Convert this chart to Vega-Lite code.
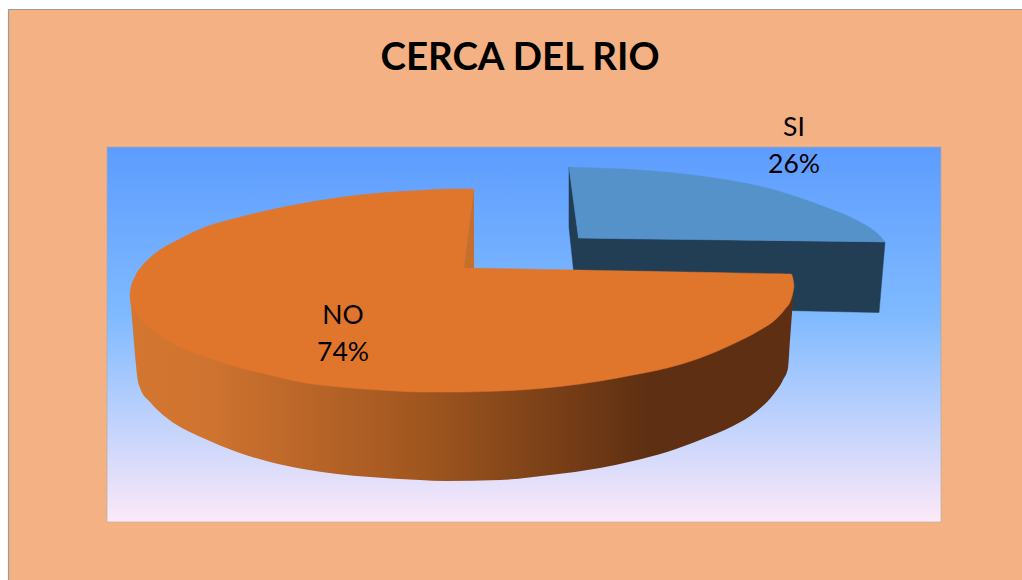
{
"$schema":"https://vega.github.io/schema/vega-lite/v6.json",
"width":1014,"height":571,
"autosize":"none",
"padding":{"left":8,"top":9,"right":0,"bottom":0},
"background":"#ffffff",
"view":{"fill":"#F4B183","stroke":null},
"title":{"text":"CERCA DEL RIO","font":"Lato","fontWeight":"bold","fontSize":38.5,"color":"#000000","anchor":"middle","baseline":"alphabetic","offset":-100,"dx":5},
"datasets":{
"frame":[{"x":8.5,"y":9.5,"x2":8.5,"y2":580},{"x":8.5,"y":9.5,"x2":1022,"y2":9.5}],
"plot":[{"x":107,"y":147,"x2":941,"y2":522}],
"si_dark":[{"x":569,"y":167,"y2":227},{"x":573.5,"y":200,"y2":270},{"x":578.5,"y":238,"y2":306},{"x":879,"y":241.9,"y2":312.5},{"x":885,"y":242,"y2":242}],
"si_top":[{"part":"wedge","x":569,"y":167,"y2":167},{"part":"wedge","x":578.5,"y":167.5,"y2":238},
{"part":"arc","x":578.5,"y":167.5,"y2":238},{"part":"arc","x":640,"y":170,"y2":238.9},{"part":"arc","x":700,"y":176,"y2":239.6},{"part":"arc","x":733,"y":181,"y2":240},{"part":"arc","x":767,"y":188,"y2":240.4},{"part":"arc","x":800,"y":198,"y2":240.8},{"part":"arc","x":833,"y":210,"y2":241.2},{"part":"arc","x":850,"y":217,"y2":241.4},{"part":"arc","x":867,"y":226,"y2":241.6},{"part":"arc","x":877,"y":233,"y2":241.8},{"part":"arc","x":885,"y":242,"y2":242}],
"no_side":[{"x":130,"y":294,"y2":294},{"x":132,"y":294,"y2":318},{"x":136,"y":294,"y2":365},{"x":137,"y":294,"y2":375},{"x":140,"y":294,"y2":388},{"x":150,"y":294,"y2":402},{"x":163,"y":294,"y2":415},{"x":182,"y":294,"y2":428},{"x":203,"y":294,"y2":438},{"x":237,"y":294,"y2":452},{"x":270,"y":294,"y2":462},{"x":303,"y":294,"y2":469},{"x":337,"y":294,"y2":474},{"x":370,"y":294,"y2":477},{"x":420,"y":294,"y2":480},{"x":445,"y":294,"y2":481},{"x":500,"y":294,"y2":480},{"x":550,"y":294,"y2":475},{"x":600,"y":294,"y2":468},{"x":633,"y":294,"y2":461},{"x":667,"y":294,"y2":452},{"x":700,"y":294,"y2":440},{"x":733,"y":294,"y2":426},{"x":757,"y":294,"y2":411},{"x":773,"y":294,"y2":395},{"x":783,"y":294,"y2":380},{"x":788,"y":290,"y2":368},{"x":790,"y":288,"y2":340},{"x":792,"y":287,"y2":313},{"x":794,"y":286,"y2":286}],
"no_top":[
{"part":"left","x":130,"y":294,"y2":294},{"part":"left","x":131,"y":288,"y2":303},{"part":"left","x":135,"y":277,"y2":311},{"part":"left","x":143,"y":265,"y2":322},{"part":"left","x":151,"y":257,"y2":329},{"part":"left","x":160,"y":250,"y2":336},{"part":"left","x":178,"y":240,"y2":346},{"part":"left","x":203,"y":228,"y2":356},{"part":"left","x":237,"y":218,"y2":367},{"part":"left","x":270,"y":210,"y2":375},{"part":"left","x":300,"y":204,"y2":382},{"part":"left","x":340,"y":197.5,"y2":387},{"part":"left","x":380,"y":193,"y2":390},{"part":"left","x":420,"y":190.5,"y2":392},{"part":"left","x":450,"y":189,"y2":392},{"part":"left","x":464,"y":189,"y2":392},
{"part":"flap","x":464,"y":189,"y2":268},{"part":"flap","x":474,"y":189,"y2":189},
{"part":"right","x":464,"y":268,"y2":392},{"part":"right","x":500,"y":268.7,"y2":391},{"part":"right","x":540,"y":269.4,"y2":388.5},{"part":"right","x":580,"y":270.1,"y2":384},{"part":"right","x":600,"y":270.5,"y2":381},{"part":"right","x":633,"y":271.1,"y2":375},{"part":"right","x":667,"y":271.7,"y2":368},{"part":"right","x":700,"y":272.3,"y2":358},{"part":"right","x":733,"y":272.9,"y2":344},{"part":"right","x":760,"y":273.4,"y2":330},{"part":"right","x":775,"y":273.7,"y2":320},{"part":"right","x":785,"y":273.9,"y2":309},{"part":"right","x":791,"y":274,"y2":299.5},{"part":"right","x":793,"y":279,"y2":292},{"part":"right","x":794,"y":286,"y2":286}],
"no_wall":[{"x":464,"y":268,"y2":268},{"x":474,"y":189,"y2":268}],
"labels":[{"category":"SI","share":26,"label":"SI\n26%","x":794,"y":128},{"category":"NO","share":74,"label":"NO\n74%","x":343,"y":316}]
},
"encoding":{
"x":{"field":"x","type":"quantitative","axis":null,"scale":{"domain":[8,1022],"nice":false,"zero":false}},
"y":{"field":"y","type":"quantitative","axis":null,"scale":{"domain":[580,9],"nice":false,"zero":false}}
},
"layer":[
{"data":{"name":"plot"},"mark":{"type":"rect","stroke":"#b0a8a0","strokeWidth":0.6,"fill":{"x1":0,"y1":0,"x2":0,"y2":1,"gradient":"linear","stops":[{"offset":0,"color":"#5D9CFF"},{"offset":0.45,"color":"#7FBAFF"},{"offset":1,"color":"#FDE9F9"}]}},"encoding":{"x2":{"field":"x2"},"y2":{"field":"y2"}}},
{"data":{"name":"frame"},"mark":{"type":"rule","color":"#9a9a9a","strokeWidth":1.2},"encoding":{"x2":{"field":"x2"},"y2":{"field":"y2"}}},
{"data":{"name":"si_dark"},"mark":{"type":"area","color":"#223E55","stroke":"#223E55","strokeWidth":0.5},"encoding":{"y2":{"field":"y2"}}},
{"data":{"name":"si_top"},"mark":{"type":"area","interpolate":"monotone","color":"#5592C9","stroke":"#5592C9","strokeWidth":0.5},"encoding":{"y2":{"field":"y2"},"detail":{"field":"part"}}},
{"data":{"name":"no_side"},"mark":{"type":"area","interpolate":"monotone","fill":{"x1":0,"y1":0,"x2":1,"y2":0,"gradient":"linear","stops":[{"offset":0,"color":"#D27630"},{"offset":0.12,"color":"#CF7330"},{"offset":0.44,"color":"#A0561F"},{"offset":0.78,"color":"#5E2F12"},{"offset":1,"color":"#5E2F12"}]}},"encoding":{"y2":{"field":"y2"}}},
{"data":{"name":"no_top"},"mark":{"type":"area","interpolate":"monotone","color":"#E0752C","stroke":"#E0752C","strokeWidth":0.5},"encoding":{"y2":{"field":"y2"},"detail":{"field":"part"}}},
{"data":{"name":"no_wall"},"mark":{"type":"area","color":"#C86E2B"},"encoding":{"y2":{"field":"y2"}}},
{"data":{"name":"labels"},"mark":{"type":"text","font":"Lato","fontSize":26.5,"color":"#000000","lineBreak":"\n","lineHeight":36.5,"align":"center","baseline":"middle"},"encoding":{"text":{"field":"label"}}}
]
}
